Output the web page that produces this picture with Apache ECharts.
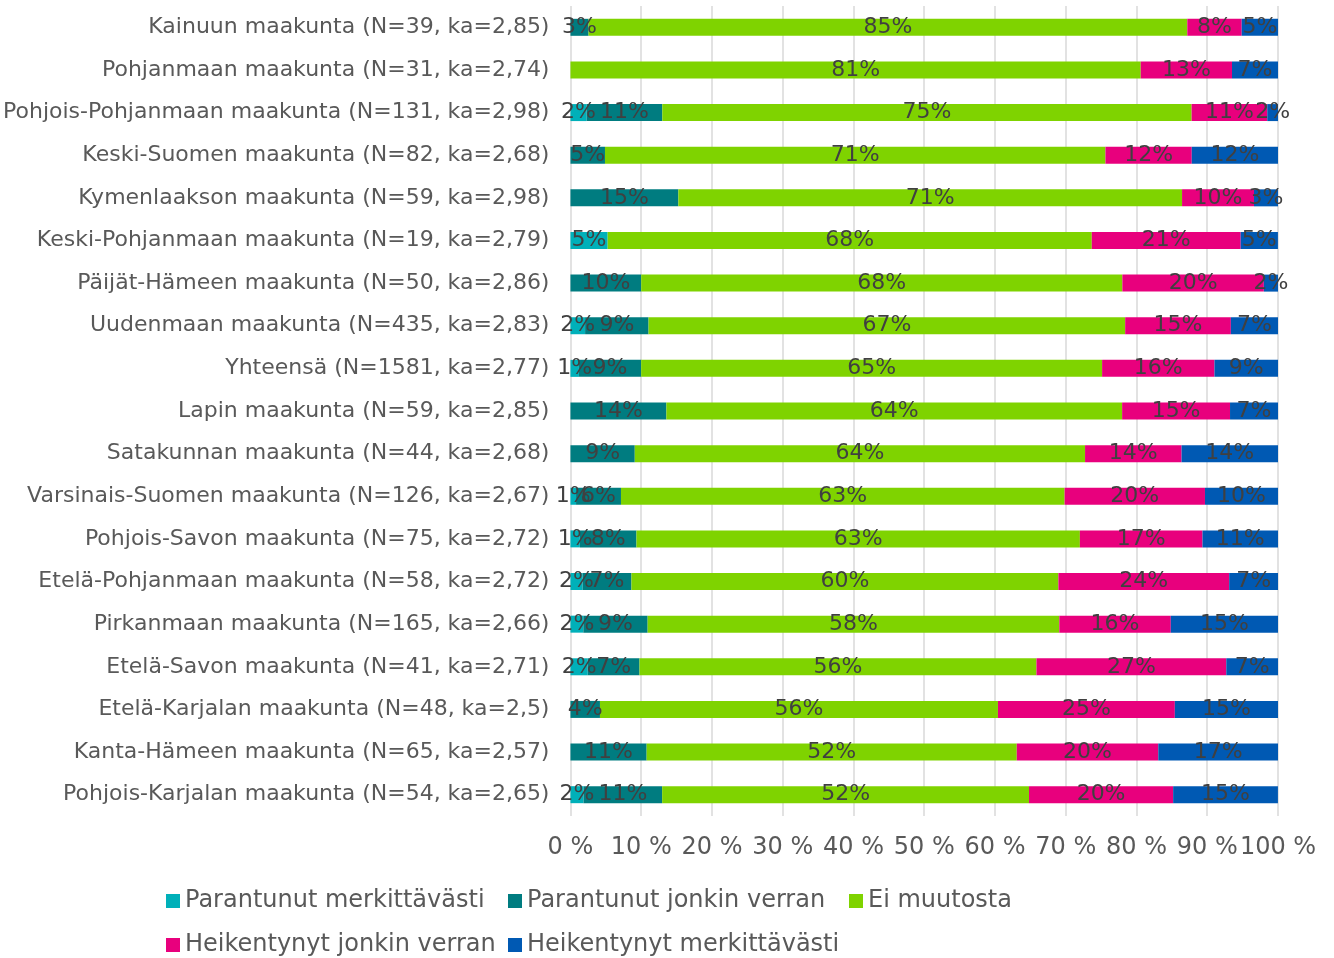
<!DOCTYPE html>
<html>
<head>
<meta charset="utf-8">
<script src="https://cdn.jsdelivr.net/npm/echarts@6/dist/echarts.min.js"></script>
<style>html,body{margin:0;padding:0;background:#fff}#c{width:1334px;height:958px}</style>
</head>
<body>
<div id="c"></div>
<script>
const categories = [
  "Kainuun maakunta (N=39, ka=2,85)",
  "Pohjanmaan maakunta (N=31, ka=2,74)",
  "Pohjois-Pohjanmaan maakunta (N=131, ka=2,98)",
  "Keski-Suomen maakunta (N=82, ka=2,68)",
  "Kymenlaakson maakunta (N=59, ka=2,98)",
  "Keski-Pohjanmaan maakunta (N=19, ka=2,79)",
  "Päijät-Hämeen maakunta (N=50, ka=2,86)",
  "Uudenmaan maakunta (N=435, ka=2,83)",
  "Yhteensä (N=1581, ka=2,77)",
  "Lapin maakunta (N=59, ka=2,85)",
  "Satakunnan maakunta (N=44, ka=2,68)",
  "Varsinais-Suomen maakunta (N=126, ka=2,67)",
  "Pohjois-Savon maakunta (N=75, ka=2,72)",
  "Etelä-Pohjanmaan maakunta (N=58, ka=2,72)",
  "Pirkanmaan maakunta (N=165, ka=2,66)",
  "Etelä-Savon maakunta (N=41, ka=2,71)",
  "Etelä-Karjalan maakunta (N=48, ka=2,5)",
  "Kanta-Hämeen maakunta (N=65, ka=2,57)",
  "Pohjois-Karjalan maakunta (N=54, ka=2,65)"
];
const seriesNames = ["Parantunut merkittävästi","Parantunut jonkin verran","Ei muutosta","Heikentynyt jonkin verran","Heikentynyt merkittävästi"];
const parantunutMerkittavasti = [0, 0, 2.29, 0, 0, 5.26, 0, 2.07, 1.20, 0, 0, 0.79, 1.33, 1.72, 1.82, 2.44, 0, 0, 1.85];
const parantunutJonkin = [2.56, 0, 10.69, 4.88, 15.25, 0, 10, 8.97, 8.79, 13.56, 9.09, 6.35, 8.00, 6.90, 9.09, 7.32, 4.17, 10.77, 11.11];
const eiMuutosta = [84.62, 80.6, 74.81, 70.73, 71.19, 68.42, 68, 67.36, 65.15, 64.41, 63.64, 62.70, 62.67, 60.34, 58.18, 56.10, 56.25, 52.31, 51.85];
const heikentynytJonkin = [7.69, 12.9, 10.69, 12.20, 10.17, 21.05, 20, 14.94, 15.88, 15.25, 13.64, 19.84, 17.33, 24.14, 15.76, 26.83, 25, 20, 20.37];
const heikentynytMerkittavasti = [5.13, 6.5, 1.53, 12.20, 3.39, 5.26, 2, 6.67, 8.98, 6.78, 13.64, 10.32, 10.67, 6.90, 15.15, 7.32, 14.58, 16.92, 14.81];
const xTicks = [0,10,20,30,40,50,60,70,80,90,100];
const colors = ["#00B0B9","#007C80","#7FD300","#E8007D","#0059B3"];

const values = [parantunutMerkittavasti, parantunutJonkin, eiMuutosta, heikentynytJonkin, heikentynytMerkittavasti];
const FONT = "DejaVu Sans";

const chart = echarts.init(document.getElementById('c'), null, {renderer:'canvas'});
const series = seriesNames.map((n,i)=>({
  name: n, type: 'bar', stack: 'all', barWidth: 17,
  itemStyle: {color: colors[i]},
  label: {
    show: true, position: 'inside', color: '#404040', fontFamily: FONT, fontSize: 22,
    offset: [0, 1],
    formatter: p => p.value > 0 ? Math.round(p.value) + '%' : ''
  },
  labelLayout: {hideOverlap: false},
  data: values[i]
}));

const legendPos = [[166,889],[508,889],[849,889],[166,933],[508,933]];
const legends = seriesNames.map((n,i)=>({
  data: [n], left: legendPos[i][0], top: legendPos[i][1],
  itemWidth: 14, itemHeight: 14, icon: 'rect', itemGap: 0, padding: 0,
  textStyle: {fontFamily: FONT, fontSize: 24, color: '#595959'}
}));

chart.setOption({
  animation: false,
  textStyle: {fontFamily: FONT},
  grid: {left: 570, right: 56, top: 6, bottom: 142, containLabel: false},
  legend: legends,
  xAxis: {
    type: 'value', min: 0, max: 100, interval: 10,
    axisLine: {show: false}, axisTick: {show: false},
    splitLine: {show: true, lineStyle: {color: '#D9D9D9', width: 1.5}},
    axisLabel: {margin: 20, color: '#595959', fontFamily: FONT, fontSize: 24,
      formatter: v => v + ' %'}
  },
  yAxis: {
    type: 'category', data: categories, inverse: true,
    axisLine: {show: false}, axisTick: {show: false},
    axisLabel: {margin: 21, color: '#595959', fontFamily: FONT, fontSize: 22}
  },
  series: series
});
</script>
</body>
</html>
